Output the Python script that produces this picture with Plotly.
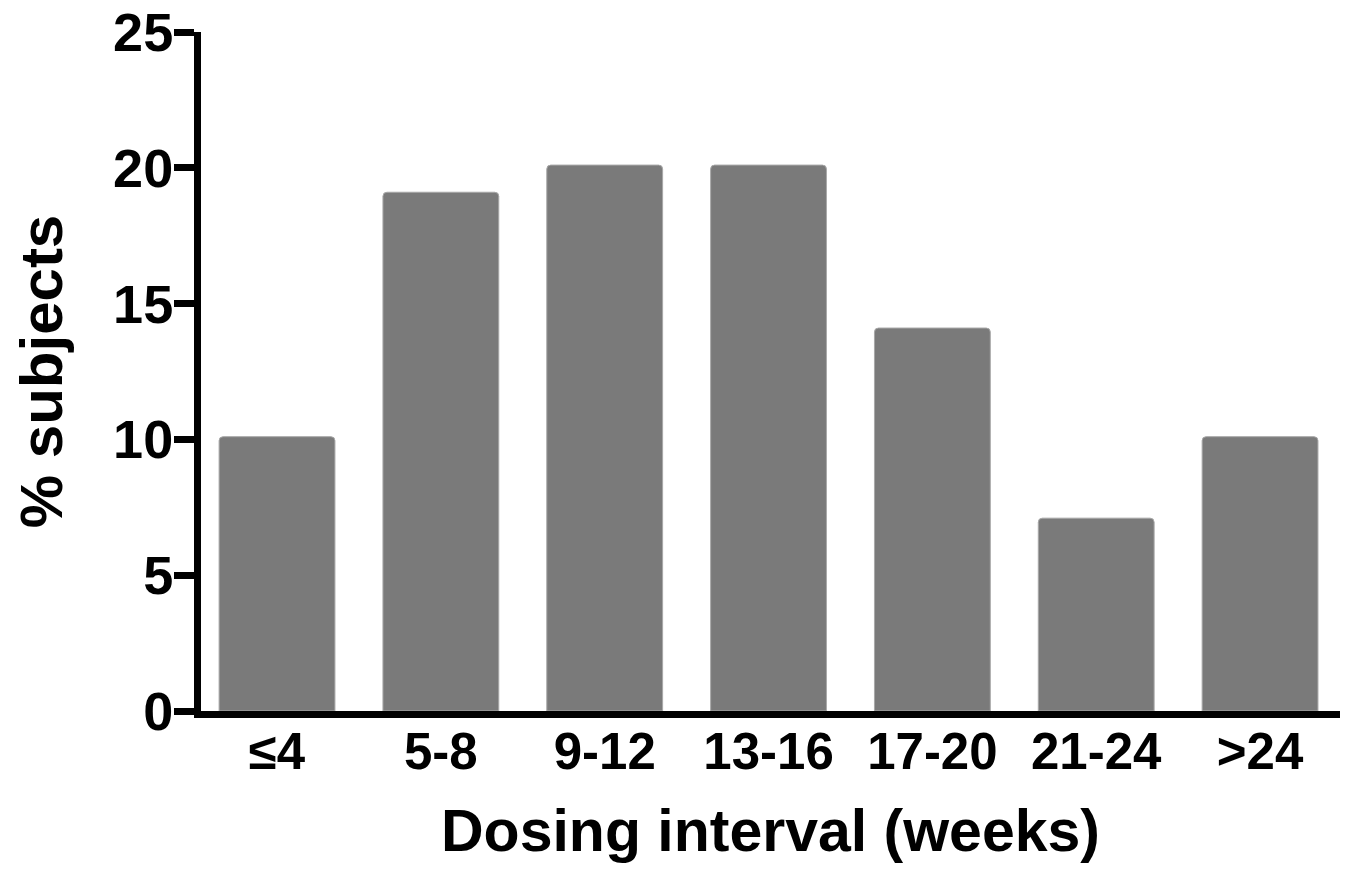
import plotly.graph_objects as go

categories = ["≤4", "5-8", "9-12", "13-16", "17-20", "21-24", ">24"]
percent_subjects = [10.1, 19.1, 20.1, 20.1, 14.1, 7.1, 10.1]
y_ticks = [0, 5, 10, 15, 20, 25]

FONT = "Liberation Sans, Arial, sans-serif"

fig = go.Figure(
    go.Bar(
        x=categories,
        y=percent_subjects,
        marker=dict(color="#7a7a7a", line=dict(color="#a8a8a8", width=1), cornerradius=4),
        hoverinfo="x+y",
    )
)

fig.update_layout(
    width=1349,
    height=873,
    margin=dict(l=193, r=17, t=24, b=170, autoexpand=False),
    paper_bgcolor="white",
    plot_bgcolor="white",
    bargap=0.293,
    showlegend=False,
    font=dict(family=FONT, color="black"),
)

fig.update_xaxes(
    automargin=False,
    showline=True,
    linecolor="black",
    linewidth=7,
    showgrid=False,
    zeroline=False,
    ticks="",
    tickfont=dict(family=FONT, size=51, color="black", weight="bold"),
    ticklabelstandoff=-10,
    ticklabeloverflow="allow",
    title=dict(
        text="Dosing interval (weeks)",
        font=dict(family=FONT, size=59, color="black", weight="bold"),
        standoff=33,
    ),
    range=[-0.464, 6.488],
)

fig.update_yaxes(
    automargin=False,
    range=[0, 25],
    tickvals=y_ticks,
    ticktext=[str(v) for v in y_ticks],
    showline=True,
    linecolor="black",
    linewidth=7,
    showgrid=False,
    zeroline=False,
    ticks="outside",
    ticklen=20,
    tickwidth=7,
    tickcolor="black",
    tickfont=dict(family=FONT, size=54, color="black", weight="bold"),
    ticklabelstandoff=-10,
    ticklabeloverflow="allow",
    title=dict(
        text="% subjects",
        font=dict(family=FONT, size=60, color="black", weight="bold"),
        standoff=34,
    ),
)

fig.write_html("out.html")
